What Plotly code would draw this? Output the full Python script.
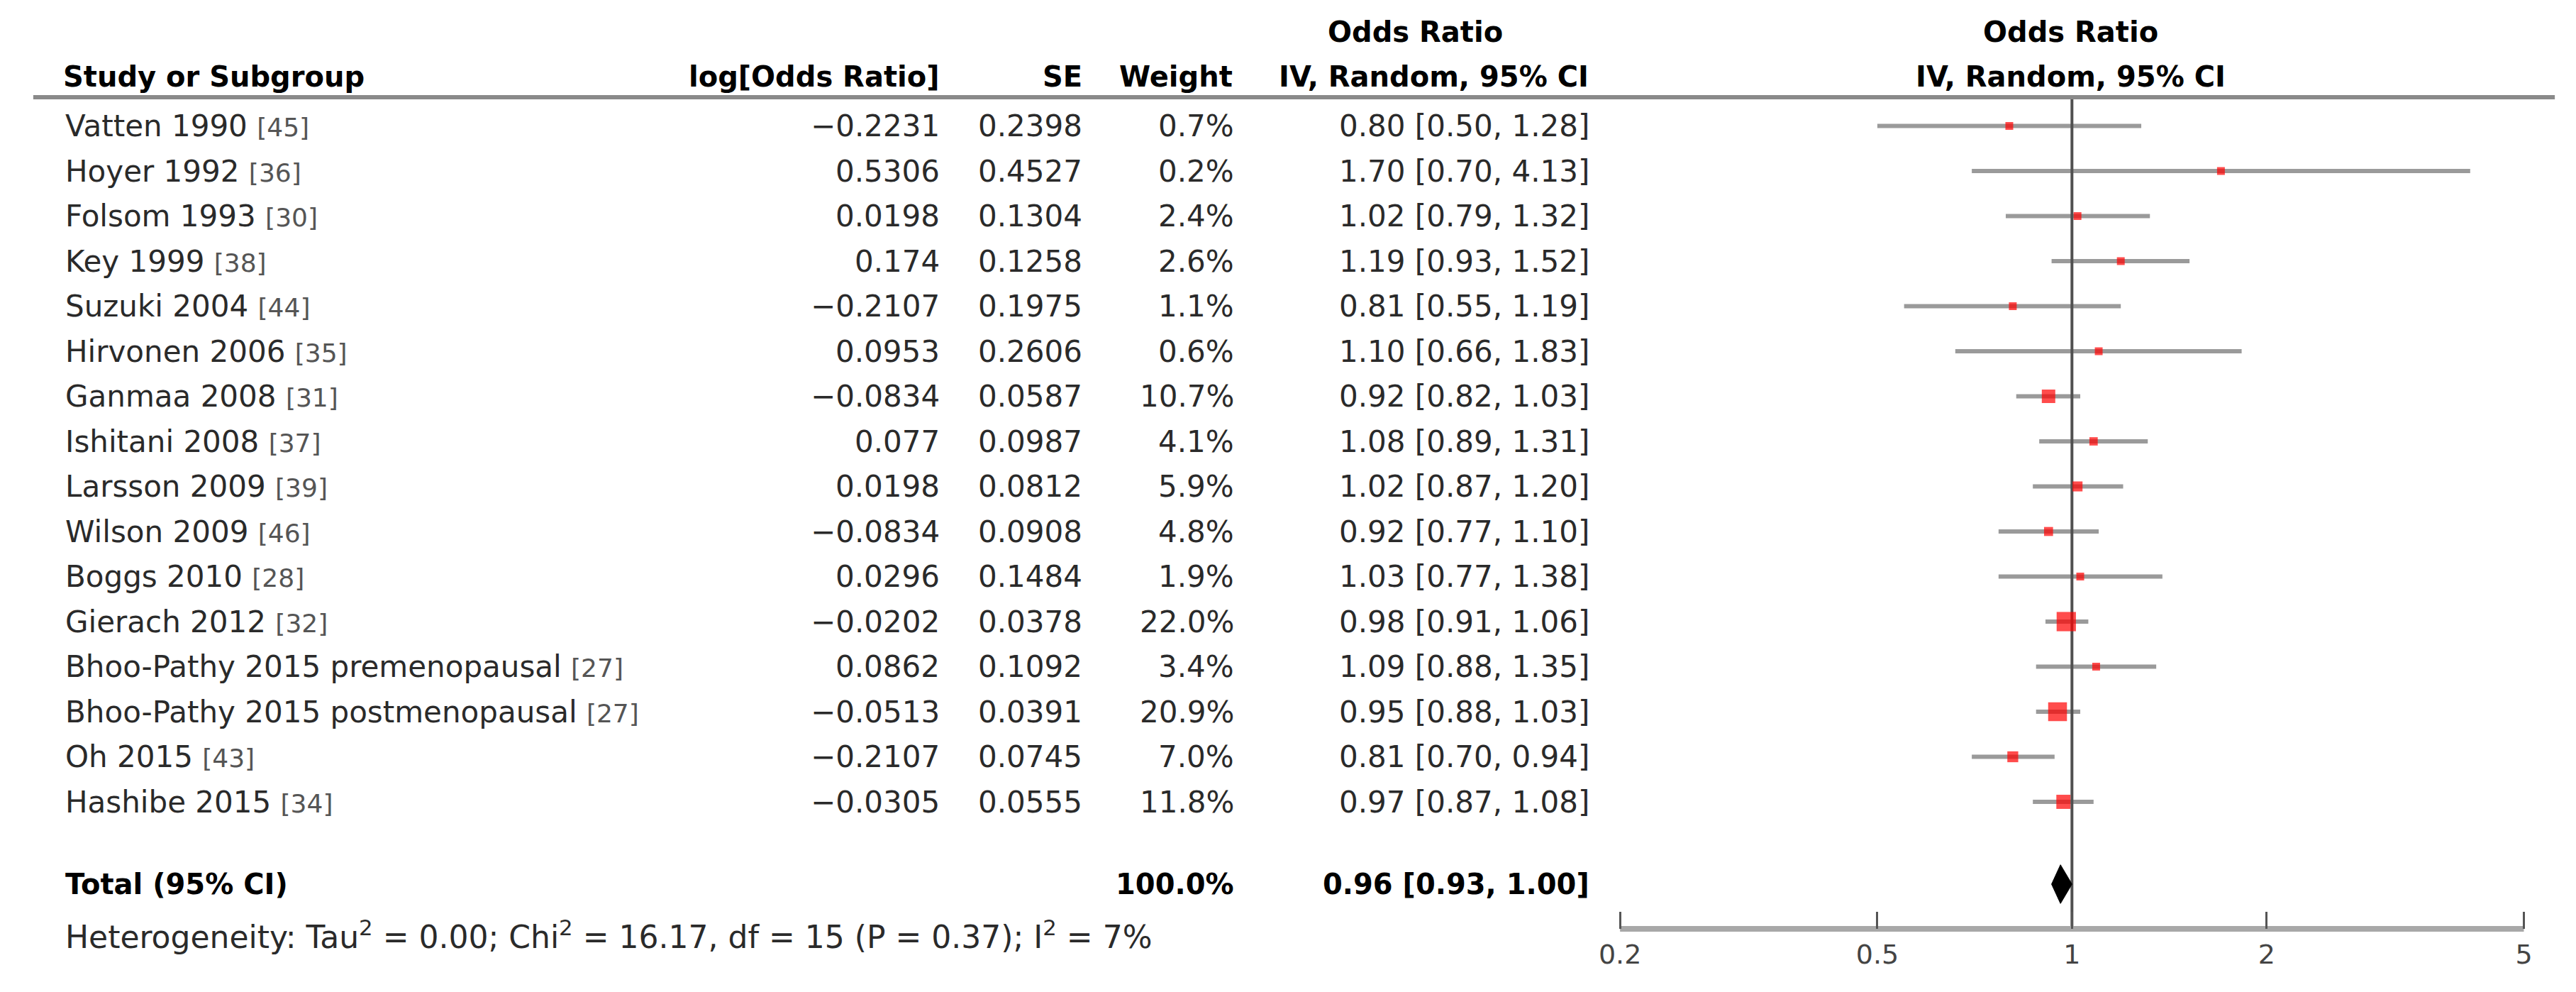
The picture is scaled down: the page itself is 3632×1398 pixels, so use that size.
import math
import plotly.graph_objects as go

# ---- data ----
studies = ["Vatten 1990", "Hoyer 1992", "Folsom 1993", "Key 1999", "Suzuki 2004",
           "Hirvonen 2006", "Ganmaa 2008", "Ishitani 2008", "Larsson 2009", "Wilson 2009",
           "Boggs 2010", "Gierach 2012", "Bhoo-Pathy 2015 premenopausal",
           "Bhoo-Pathy 2015 postmenopausal", "Oh 2015", "Hashibe 2015"]
refs = [45, 36, 30, 38, 44, 35, 31, 37, 39, 46, 28, 32, 27, 27, 43, 34]
log_or = [-0.2231, 0.5306, 0.0198, 0.174, -0.2107, 0.0953, -0.0834, 0.077, 0.0198,
          -0.0834, 0.0296, -0.0202, 0.0862, -0.0513, -0.2107, -0.0305]
se = [0.2398, 0.4527, 0.1304, 0.1258, 0.1975, 0.2606, 0.0587, 0.0987, 0.0812, 0.0908,
      0.1484, 0.0378, 0.1092, 0.0391, 0.0745, 0.0555]
weight = [0.7, 0.2, 2.4, 2.6, 1.1, 0.6, 10.7, 4.1, 5.9, 4.8, 1.9, 22.0, 3.4, 20.9, 7.0, 11.8]
or_est = [0.80, 1.70, 1.02, 1.19, 0.81, 1.10, 0.92, 1.08, 1.02, 0.92, 1.03, 0.98, 1.09,
          0.95, 0.81, 0.97]
ci_lo = [0.50, 0.70, 0.79, 0.93, 0.55, 0.66, 0.82, 0.89, 0.87, 0.77, 0.77, 0.91, 0.88,
         0.88, 0.70, 0.87]
ci_hi = [1.28, 4.13, 1.32, 1.52, 1.19, 1.83, 1.03, 1.31, 1.20, 1.10, 1.38, 1.06, 1.35,
         1.03, 0.94, 1.08]
total_est, total_lo, total_hi, total_weight = 0.96, 0.93, 1.00, 100.0
tau2, chi2, df, p_het, i2 = 0.00, 16.17, 15, 0.37, 7
axis_ticks = [0.2, 0.5, 1, 2, 5]

# ---- page geometry (browser body has an 8px margin) ----
W, H, M = 3616, 1382, 8
ROW0, ROWH = 177.5, 63.5          # pixel y of first row, row pitch


def px(x):
    return (x - M) / W


def row_of(y):
    return (y - ROW0) / ROWH


y_or_hdr = row_of(45)
y_hdr = row_of(108)
y_rule = row_of(137)
y_total = row_of(1246)
y_het = row_of(1317)
y_axis = row_of(1309)

FONT = "DejaVu Sans"
FS = 42
HFS = 40
TXT = "#2a2a2a"

# forest axis: 0.2 sits at x=2279px, 5 at x=3564px; pad a few px so end ticks draw
X_LEFT, X_RIGHT, PAD = 2279, 3564, 6
per_dec = (X_RIGHT - X_LEFT) / (math.log10(5) - math.log10(0.2))
x_range = [math.log10(0.2) - PAD / per_dec, math.log10(5) + PAD / per_dec]

rows = list(range(len(studies)))

fig = go.Figure()

# CI whiskers
wx, wy = [], []
for i in rows:
    wx += [ci_lo[i], ci_hi[i], None]
    wy += [i, i, None]
fig.add_trace(go.Scatter(x=wx, y=wy, mode="lines", line=dict(color="#9a9a9a", width=6),
                         hoverinfo="skip", showlegend=False))

# line of no effect
fig.add_trace(go.Scatter(x=[1, 1], y=[y_rule, y_axis], mode="lines",
                         line=dict(color="#505050", width=4), hoverinfo="skip",
                         showlegend=False))

# study boxes, area proportional to weight
sizes = [max(11, 5.8 * math.sqrt(w)) for w in weight]
fig.add_trace(go.Scatter(x=or_est, y=rows, mode="markers",
                         marker=dict(symbol="square", size=sizes, color="#ff0000",
                                     line=dict(width=0)),
                         showlegend=False))

# pooled diamond
dh = 0.43
fig.add_trace(go.Scatter(x=[total_lo, total_est, total_hi, total_est, total_lo],
                         y=[y_total, y_total - dh, y_total, y_total + dh, y_total],
                         mode="lines", fill="toself", fillcolor="black",
                         line=dict(color="black", width=1), showlegend=False))

# axis baseline from 0.2 to 5
fig.add_trace(go.Scatter(x=[axis_ticks[0], axis_ticks[-1]], y=[y_axis, y_axis],
                         mode="lines", line=dict(color="#a8a8a8", width=8),
                         hoverinfo="skip", showlegend=False, cliponaxis=False))

ann = []


def txt(x, y, s, anchor="left", size=FS, color=TXT):
    ann.append(dict(x=px(x), y=y, xref="paper", yref="y", text=s, showarrow=False,
                    xanchor=anchor, yanchor="middle",
                    font=dict(family=FONT, size=size, color=color)))


# headers
txt(63, y_hdr, "<b>Study or Subgroup</b>", size=HFS, color="black")
txt(1314, y_hdr, "<b>log[Odds Ratio]</b>", "right", size=HFS, color="black")
txt(1517, y_hdr, "<b>SE</b>", "right", size=HFS, color="black")
txt(1730, y_hdr, "<b>Weight</b>", "right", size=HFS, color="black")
txt(1988, y_or_hdr, "<b>Odds Ratio</b>", "center", size=HFS, color="black")
txt(2236, y_hdr, "<b>IV, Random, 95% CI</b>", "right", size=HFS, color="black")
txt(2920, y_or_hdr, "<b>Odds Ratio</b>", "center", size=HFS, color="black")
txt(2920, y_hdr, "<b>IV, Random, 95% CI</b>", "center", size=HFS, color="black")


def num(v):
    return str(v).replace("-", "\u2212")


for i in rows:
    txt(66, i, f"{studies[i]} <span style='font-size:36px;color:#555'>[{refs[i]}]</span>")
    txt(1314, i, num(log_or[i]), "right")
    txt(1517, i, num(se[i]), "right")
    txt(1732, i, f"{weight[i]:.1f}%", "right")
    txt(2237, i, f"{or_est[i]:.2f} [{ci_lo[i]:.2f}, {ci_hi[i]:.2f}]", "right")

txt(66, y_total, "<b>Total (95% CI)</b>", size=HFS, color="black")
txt(1732, y_total, f"<b>{total_weight:.1f}%</b>", "right", size=HFS, color="black")
txt(2237, y_total, f"<b>{total_est:.2f} [{total_lo:.2f}, {total_hi:.2f}]</b>", "right",
    size=HFS, color="black")
txt(66, y_het,
    f"Heterogeneity: Tau<sup>2</sup> = {tau2:.2f}; Chi<sup>2</sup> = {chi2:.2f}, "
    f"df = {df} (P = {p_het:.2f}); I<sup>2</sup> = {i2}%", size=44)

fig.update_layout(
    width=W, height=H, margin=dict(l=0, r=0, t=0, b=0),
    paper_bgcolor="white", plot_bgcolor="white",
    annotations=ann,
    shapes=[dict(type="line", xref="paper", yref="y", x0=px(23), x1=px(3608),
                 y0=y_rule, y1=y_rule, line=dict(color="#8a8a8a", width=6))],
    xaxis=dict(type="log", range=x_range,
               domain=[px(X_LEFT - PAD), px(X_RIGHT + PAD)], anchor="free",
               position=1 - (1309 - M) / H,
               showline=False,
               ticks="inside", ticklen=24, tickwidth=3, tickcolor="#555555",
               tickvals=axis_ticks, ticktext=[str(t) for t in axis_ticks],
               tickfont=dict(family=FONT, size=38, color="#444444"),
               ticklabelstandoff=10,
               showgrid=False, zeroline=False),
    yaxis=dict(range=[row_of(M + H), row_of(M)], visible=False, domain=[0, 1]),
)

fig.write_html("out.html")
